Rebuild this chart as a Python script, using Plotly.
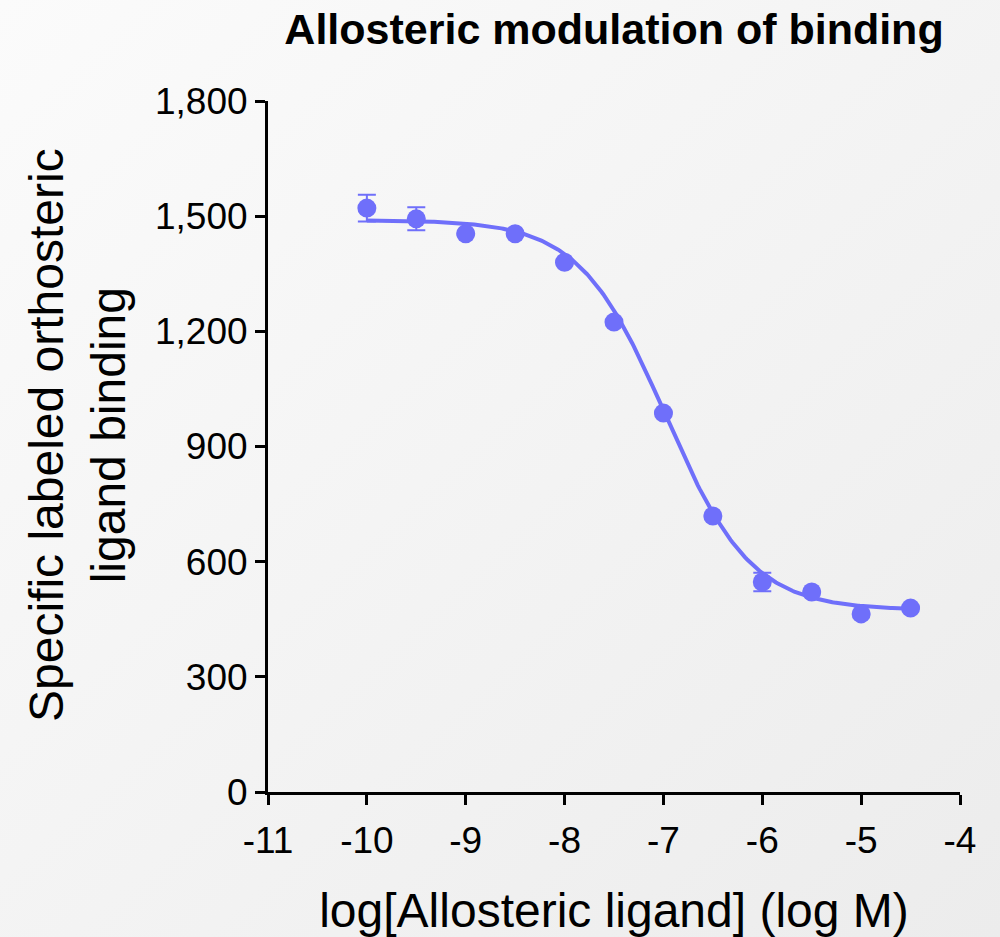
import base64
import numpy as np
import plotly.graph_objects as go

# Measured binding (mean ± SEM) at each allosteric ligand concentration
log_conc = [-10, -9.5, -9, -8.5, -8, -7.5, -7, -6.5, -6, -5.5, -5, -4.5]
binding = [1521, 1493, 1454, 1454, 1380, 1224, 987, 719, 547, 521, 464, 479]
sem = [35, 30, 3, 3, 3, 3, 3, 3, 24, 3, 3, 3]

# Axis ticks
x_ticks = [-11, -10, -9, -8, -7, -6, -5, -4]
x_tick_text = ["-11", "-10", "-9", "-8", "-7", "-6", "-5", "-4"]
y_ticks = [0, 300, 600, 900, 1200, 1500, 1800]

# Fitted sigmoidal dose-response parameters
fit_top = 1490
fit_bottom = 474
fit_log_ic50 = -6.98
fit_hill = -1.0

x_fit = np.linspace(-10, -4.5, 300)
y_fit = fit_bottom + (fit_top - fit_bottom) / (1 + 10 ** ((fit_log_ic50 - x_fit) * fit_hill))

color = "#6f6ffa"

fig = go.Figure()
fig.add_trace(go.Scatter(
    x=x_fit, y=y_fit, mode="lines",
    line=dict(color=color, width=4), hoverinfo="skip", showlegend=False,
))
fig.add_trace(go.Scatter(
    x=log_conc, y=binding, mode="markers",
    marker=dict(color=color, size=19),
    error_y=dict(type="data", array=sem, color=color, thickness=2, width=9),
    showlegend=False,
))

W, H = 1000, 937
ml, mr, mt, mb = 268, 40, 101, 145
pw, ph = W - ml - mr, H - mt - mb

svg = (
    f'<svg xmlns="http://www.w3.org/2000/svg" width="{W}" height="{H}">'
    '<defs><linearGradient id="g" x1="0" y1="0" x2="1" y2="1">'
    '<stop offset="0" stop-color="#fbfbfb"/><stop offset="1" stop-color="#ececec"/>'
    '</linearGradient></defs>'
    f'<rect width="{W}" height="{H}" fill="url(#g)"/></svg>'
)
bg_src = "data:image/svg+xml;base64," + base64.b64encode(svg.encode()).decode()

font = "Arial, Liberation Sans, sans-serif"
fig.update_layout(
    width=W, height=H,
    margin=dict(l=ml, r=mr, t=mt, b=mb),
    paper_bgcolor="#f3f3f3", plot_bgcolor="rgba(0,0,0,0)",
    font=dict(family=font, color="black"),
    images=[dict(
        source=bg_src, xref="paper", yref="paper",
        x=-ml / pw, y=1 + mt / ph, sizex=W / pw, sizey=H / ph,
        xanchor="left", yanchor="top", sizing="stretch", layer="below",
    )],
    title=dict(
        text="<b>Allosteric modulation of binding</b>",
        x=(ml + pw / 2) / W, xanchor="center", y=1 - 29 / H, yanchor="middle",
        font=dict(size=43, family=font, color="black"),
        automargin=False,
    ),
    annotations=[dict(
        text="Specific labeled orthosteric<br>ligand binding",
        textangle=-90, showarrow=False,
        xref="paper", yref="paper",
        x=(77 - ml) / pw, y=(ph - (435 - mt)) / ph,
        xanchor="center", yanchor="middle",
        font=dict(size=48, family=font, color="black"),
    )],
    xaxis=dict(
        range=[-11, -4], tickvals=x_ticks, ticktext=x_tick_text,
        showgrid=False, zeroline=False, automargin=False,
        showline=True, linecolor="black", linewidth=3,
        ticks="outside", ticklen=10, tickwidth=3, tickcolor="black",
        tickfont=dict(size=37), ticklabelstandoff=4,
        title=dict(text="log[Allosteric ligand] (log M)", font=dict(size=48), standoff=40),
    ),
    yaxis=dict(
        range=[0, 1800], tickvals=y_ticks,
        tickformat=",d",
        showgrid=False, zeroline=False, automargin=False,
        showline=True, linecolor="black", linewidth=3,
        ticks="outside", ticklen=10, tickwidth=3, tickcolor="black",
        tickfont=dict(size=37),
    ),
)

fig.write_html("out.html")
